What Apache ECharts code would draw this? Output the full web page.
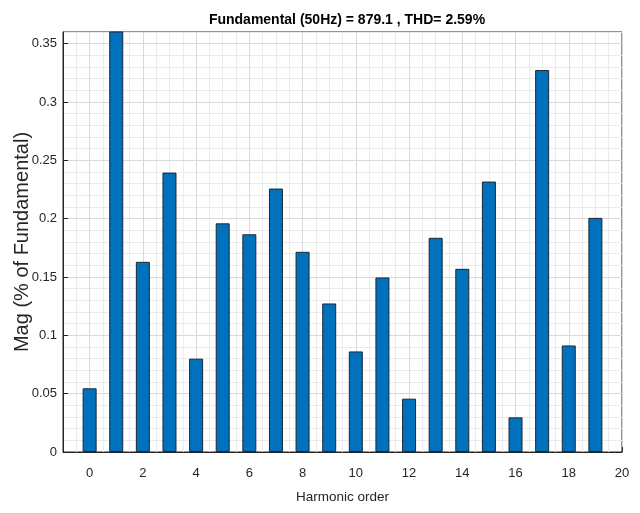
<!DOCTYPE html>
<html>
<head>
<meta charset="utf-8">
<script src="https://cdn.jsdelivr.net/npm/echarts@6/dist/echarts.min.js"></script>
<style>
  html, body { margin: 0; padding: 0; background: #ffffff; }
  #chart { width: 640px; height: 513px; }
</style>
</head>
<body>
<div id="chart"></div>
<script>
// ---- data ----
const harmonicOrder = [0, 1, 2, 3, 4, 5, 6, 7, 8, 9, 10, 11, 12, 13, 14, 15, 16, 17, 18, 19];
const magnitude = [0.0546, 0.38, 0.163, 0.2395, 0.080, 0.196, 0.1866, 0.2258, 0.1716, 0.1273,
                   0.0862, 0.1496, 0.0457, 0.1836, 0.157, 0.2318, 0.0297, 0.3274, 0.0913, 0.2007];
const xTicks = [0, 2, 4, 6, 8, 10, 12, 14, 16, 18, 20];
const yTicks = [0, 0.05, 0.1, 0.15, 0.2, 0.25, 0.3, 0.35];
const titleText = 'Fundamental (50Hz) = 879.1 , THD= 2.59%';
const xName = 'Harmonic order';
const yName = 'Mag (% of Fundamental)';
const xMin = -1, xMax = 20, yMin = 0, yMax = 0.36;

const seriesData = harmonicOrder.map((h, i) => [h, magnitude[i]]);

const FONT = '"Liberation Sans", Arial, Helvetica, sans-serif';
const TXT = '#262626';
const MAJOR = '#d9d9d9';
const MINOR = '#ebebeb';
const gridRect = { left: 63, right: 18, top: 32, bottom: 61 };

const chart = echarts.init(document.getElementById('chart'), null, { renderer: 'canvas' });
chart.setOption({
  animation: false,
  backgroundColor: '#ffffff',
  title: {
    text: titleText,
    left: 342, top: 8, textAlign: 'center',
    textStyle: { fontFamily: FONT, fontSize: 14, fontWeight: 'bold', color: '#000' }
  },
  grid: [
    Object.assign({ show: true, borderColor: TXT, borderWidth: 1, backgroundColor: '#fff',
                    containLabel: false, outerBoundsMode: 'none' }, gridRect),
    Object.assign({ show: false, containLabel: false, outerBoundsMode: 'none' }, gridRect)
  ],
  xAxis: [
    { // main bottom axis
      type: 'value', gridIndex: 0, position: 'bottom', min: xMin, max: xMax, z: 1,
      axisLine: { show: true, onZero: false, lineStyle: { color: TXT, width: 1 } },
      axisTick: { show: true, inside: true, length: 5, customValues: xTicks, lineStyle: { color: TXT } },
      axisLabel: { customValues: xTicks, margin: 15, color: TXT, fontFamily: FONT, fontSize: 13 },
      splitLine: { show: true, lineStyle: { color: MAJOR, width: 1 } },
      name: xName, nameLocation: 'middle', nameGap: 38, nameMoveOverlap: false,
      nameTextStyle: { color: TXT, fontFamily: FONT, fontSize: 13.5 }
    },
    { // minor grid
      type: 'value', gridIndex: 0, position: 'top', min: xMin, max: xMax, interval: 0.5, z: 0,
      axisLine: { show: false, onZero: false }, axisTick: { show: false }, axisLabel: { show: false },
      splitLine: { show: true, lineStyle: { color: MINOR, width: 1 } }
    },
    { // top ticks
      type: 'value', gridIndex: 1, position: 'top', min: xMin, max: xMax,
      axisLine: { show: false, onZero: false },
      axisTick: { show: true, inside: true, length: 5, customValues: xTicks, lineStyle: { color: TXT } },
      axisLabel: { show: false }, splitLine: { show: false }
    }
  ],
  yAxis: [
    {
      type: 'value', gridIndex: 0, position: 'left', min: yMin, max: yMax, z: 1,
      axisLine: { show: true, onZero: false, lineStyle: { color: TXT, width: 1 } },
      axisTick: { show: true, inside: true, length: 5, customValues: yTicks, lineStyle: { color: TXT } },
      axisLabel: { customValues: yTicks, margin: 6, color: TXT, fontFamily: FONT, fontSize: 13 },
      splitLine: { show: true, lineStyle: { color: MAJOR, width: 1 } },
      name: yName, nameLocation: 'middle', nameGap: 31, nameRotate: 90, nameMoveOverlap: false,
      nameTextStyle: { color: TXT, fontFamily: FONT, fontSize: 20 }
    },
    {
      type: 'value', gridIndex: 0, position: 'right', min: yMin, max: yMax, interval: 0.01, z: 0,
      axisLine: { show: false, onZero: false }, axisTick: { show: false }, axisLabel: { show: false },
      splitLine: { show: true, lineStyle: { color: MINOR, width: 1 } }
    },
    {
      type: 'value', gridIndex: 1, position: 'right', min: yMin, max: yMax,
      axisLine: { show: false, onZero: false },
      axisTick: { show: true, inside: true, length: 5, customValues: yTicks, lineStyle: { color: TXT } },
      axisLabel: { show: false }, splitLine: { show: false }
    }
  ],
  series: [{
    type: 'bar', xAxisIndex: 0, yAxisIndex: 0,
    data: seriesData,
    barWidth: 14,
    clip: true,
    itemStyle: { color: '#0072BD', borderColor: '#1c2733', borderWidth: 1 }
  }]
});
</script>
</body>
</html>
